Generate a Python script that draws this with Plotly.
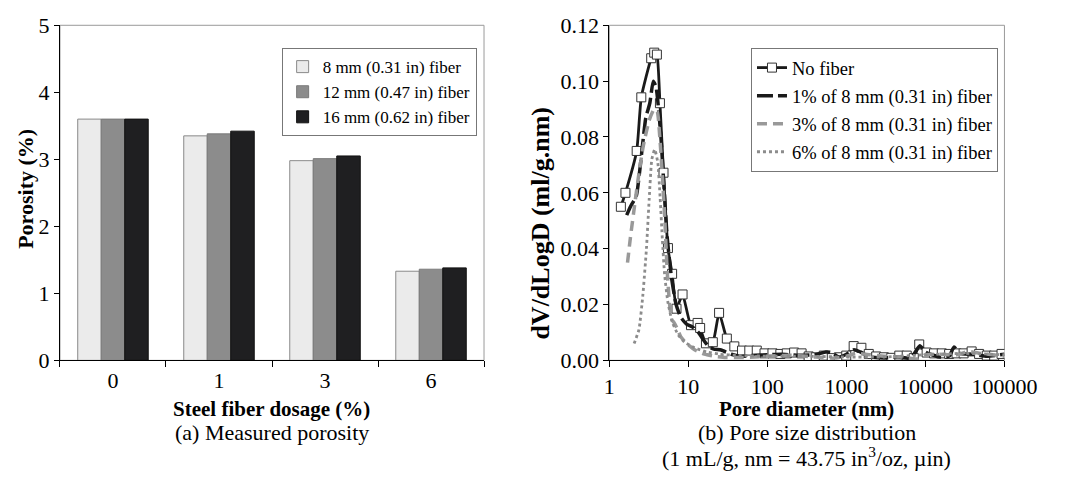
import plotly.graph_objects as go

# ---- (a) Measured porosity ----
dosage = ["0", "1", "3", "6"]
por_8mm = [3.60, 3.35, 2.98, 1.33]
por_12mm = [3.60, 3.38, 3.01, 1.36]
por_16mm = [3.60, 3.42, 3.05, 1.38]
bar_names = ["8 mm (0.31 in) fiber", "12 mm (0.47 in) fiber", "16 mm (0.62 in) fiber"]

# ---- (b) Pore size distribution ----
nofiber_d = [1.40, 1.60, 2.22, 2.54, 3.39, 3.70, 4.00, 4.37, 4.85, 5.52, 6.23, 7.08, 8.45,
             10.8, 13.1, 14.1, 16.7, 20.4, 24.5, 30.7, 38.2, 47.8, 59.1, 73.4, 92, 116, 146,
             176, 218, 271, 333, 409, 517, 653, 803, 996, 1236, 1548, 1920, 2382, 2981,
             3697, 4673, 5800, 7125, 8350, 10360, 12850, 16100, 19950, 24760, 30430,
             38450, 47750, 59750, 74100, 91900]
nofiber_v = [0.0550, 0.0600, 0.0750, 0.0942, 0.1082, 0.1102, 0.1095, 0.0921, 0.0672, 0.0402,
             0.0310, 0.0185, 0.0236, 0.0126, 0.0134, 0.0116, 0.0061, 0.0065, 0.0170, 0.0078,
             0.0050, 0.0035, 0.0035, 0.0035, 0.0025, 0.0025, 0.0023, 0.0025, 0.0028, 0.0025,
             0.0014, 0.0011, 0.0017, 0.0008, 0.0011, 0.0017, 0.0051, 0.0045, 0.0023, 0.0014,
             0.0011, 0.0009, 0.0017, 0.0017, 0.0008, 0.0057, 0.0028, 0.0025, 0.0025, 0.0023,
             0.0025, 0.0025, 0.0032, 0.0023, 0.0017, 0.0017, 0.0023]

f1_d = [1.66, 1.85, 2.20, 2.45, 2.90, 3.25, 3.60, 3.90, 4.10, 4.50, 4.90, 5.40, 6.10, 7.00,
        8.00, 9.50, 11.2, 13.4, 15.0, 18.0, 21.0, 26.0, 35.0, 45.0, 70, 100, 150, 250, 400,
        550, 650, 800, 1000, 1250, 1500, 2000, 3000, 4500, 6500, 8500, 10000, 15000, 20000,
        23000, 27000, 40000, 60000, 100000]
f1_v = [0.0520, 0.0550, 0.0590, 0.0690, 0.0870, 0.0920, 0.1000, 0.0980, 0.0930, 0.0800,
        0.0630, 0.0440, 0.0300, 0.0200, 0.0155, 0.0130, 0.0120, 0.0100, 0.0080, 0.0050,
        0.0040, 0.0037, 0.0022, 0.0015, 0.0018, 0.0020, 0.0022, 0.0018, 0.0020, 0.0030,
        0.0028, 0.0012, 0.0022, 0.0038, 0.0030, 0.0012, 0.0008, 0.0012, 0.0008, 0.0052,
        0.0030, 0.0012, 0.0015, 0.0048, 0.0025, 0.0022, 0.0015, 0.0022]

f3_d = [1.70, 1.85, 2.10, 2.40, 2.70, 3.20, 3.70, 4.05, 4.35, 4.70, 5.05, 5.40, 5.80, 6.20,
        6.60, 7.20, 8.00, 9.50, 12.0, 16.0, 22.0, 30.0, 45.0, 70, 100, 200, 400, 700, 1000,
        1300, 2000, 3000, 5000, 8000, 10000, 15000, 25000, 35000, 50000, 100000]
f3_v = [0.0350, 0.0440, 0.0560, 0.0680, 0.0770, 0.0860, 0.0900, 0.0890, 0.0800, 0.0660,
        0.0500, 0.0320, 0.0200, 0.0145, 0.0135, 0.0115, 0.0085, 0.0060, 0.0038, 0.0022,
        0.0014, 0.0010, 0.0010, 0.0012, 0.0015, 0.0018, 0.0012, 0.0008, 0.0015, 0.0025,
        0.0020, 0.0015, 0.0012, 0.0005, 0.0020, 0.0022, 0.0020, 0.0032, 0.0025, 0.0015]

f6_d = [2.06, 2.37, 2.65, 2.95, 3.20, 3.45, 3.75, 4.10, 4.40, 4.70, 5.00, 5.50, 6.30, 7.50,
        9.00, 12.0, 17.0, 25.0, 40.0, 100, 300, 1000, 3000, 10000, 30000, 100000]
f6_v = [0.0060, 0.0110, 0.0230, 0.0400, 0.0580, 0.0720, 0.0755, 0.0710, 0.0580, 0.0430,
        0.0310, 0.0210, 0.0135, 0.0090, 0.0065, 0.0045, 0.0030, 0.0022, 0.0018, 0.0015,
        0.0015, 0.0012, 0.0012, 0.0020, 0.0025, 0.0020]

SERIF = "Liberation Serif, Times New Roman, DejaVu Serif, serif"
W, H = 1076, 492

fig = go.Figure()

bar_fill = ["#ebebeb", "#8c8c8c", "#1f1f21"]
bar_edge = ["#8a8a8a", "#7a7a7a", "#111111"]
for i, (name, vals, fc, ec) in enumerate(zip(bar_names, [por_8mm, por_12mm, por_16mm], bar_fill, bar_edge)):
    fig.add_trace(go.Bar(x=dosage, y=vals, name=name, legendgroup=f"b{i}",
                         marker=dict(color=fc, line=dict(color=ec, width=1)),
                         xaxis="x", yaxis="y", legend="legend"))

spline = dict(shape="spline", smoothing=0.5)
fig.add_trace(go.Scatter(x=nofiber_d, y=nofiber_v, name="No fiber", mode="lines+markers", legendgroup="l0",
                         line=dict(color="#1a1a1a", width=2.8, **spline),
                         marker=dict(symbol="square", size=9, color="white", line=dict(color="#333", width=1)),
                         xaxis="x2", yaxis="y2", legend="legend2"))
fig.add_trace(go.Scatter(x=f1_d, y=f1_v, name="1% of 8 mm (0.31 in) fiber", mode="lines", legendgroup="l1",
                         line=dict(color="#1a1a1a", width=3.5, dash="16px,5px", **spline),
                         xaxis="x2", yaxis="y2", legend="legend2"))
fig.add_trace(go.Scatter(x=f3_d, y=f3_v, name="3% of 8 mm (0.31 in) fiber", mode="lines", legendgroup="l2",
                         line=dict(color="#999999", width=3.5, dash="10px,6px", **spline),
                         xaxis="x2", yaxis="y2", legend="legend2"))
fig.add_trace(go.Scatter(x=f6_d, y=f6_v, name="6% of 8 mm (0.31 in) fiber", mode="lines", legendgroup="l3",
                         line=dict(color="#8c8c8c", width=2.8, dash="3px,3px", **spline),
                         xaxis="x2", yaxis="y2", legend="legend2"))

# plot-area geometry in pixels
L1, R1, L2, R2, TOP, BOT = 56, 496, 626, 1036, 14, 367
px = lambda v: v / W
py = lambda v: 1 - v / H

tickfont = dict(family=SERIF, size=22, color="black")
common_y = dict(showline=True, linecolor="black", linewidth=1, ticks="outside", ticklen=5,
                tickcolor="black", showgrid=False, zeroline=False, tickfont=tickfont)
legend_common = dict(xanchor="left", yanchor="top", bgcolor="white", bordercolor="#777", borderwidth=1,
                     traceorder="grouped", itemwidth=30)
fig.update_layout(
    width=W, height=H, margin=dict(l=0, r=0, t=0, b=0),
    paper_bgcolor="white", plot_bgcolor="white",
    bargap=0.335, bargroupgap=0,
    xaxis=dict(domain=[px(L1), px(R1)], anchor="y", type="category", showline=True, linecolor="black",
               ticks="outside", tickson="boundaries", ticklen=6, tickcolor="black", tickfont=tickfont,
               showgrid=False),
    yaxis=dict(domain=[py(BOT), py(TOP)], anchor="x", range=[0, 5], dtick=1, **common_y),
    xaxis2=dict(domain=[px(L2), px(R2)], anchor="y2", type="log", range=[0, 5],
                tickvals=[1, 10, 100, 1000, 10000, 100000],
                ticktext=["1", "10", "100", "1000", "10000", "100000"],
                showline=True, linecolor="black", ticks="outside", ticklen=6, tickcolor="black",
                tickfont=tickfont, showgrid=False),
    yaxis2=dict(domain=[py(BOT), py(TOP)], anchor="x2", range=[0, 0.12], dtick=0.02,
                tickformat=".2f", **common_y),
    legend=dict(x=px(286), y=py(38), font=dict(family=SERIF, size=17, color="black"),
                tracegroupgap=0, **legend_common),
    legend2=dict(x=px(773), y=py(38), font=dict(family=SERIF, size=18.5, color="black"),
                 tracegroupgap=1, **legend_common),
    showlegend=True,
)

# light frame on top/right of each plot area
for l, r in [(L1, R1), (L2, R2)]:
    fig.add_shape(type="rect", xref="paper", yref="paper", x0=px(l), x1=px(r), y0=py(BOT), y1=py(TOP),
                  line=dict(color="#9a9a9a", width=1), layer="below")

def note(text, x, y, size, bold=False, angle=0):
    fig.add_annotation(text=f"<b>{text}</b>" if bold else text, x=px(x), y=py(y), xref="paper", yref="paper",
                       showarrow=False, textangle=angle, xanchor="center", yanchor="middle",
                       font=dict(family=SERIF, size=size, color="black"))

note("Porosity (%)", 20, 186, 22, bold=True, angle=-90)
note("dV/dLogD (ml/g.nm)", 555, 222, 26, bold=True, angle=-90)
note("Steel fiber dosage (%)", 276, 418, 21, bold=True)
note("Pore diameter (nm)", 831, 418, 21, bold=True)
note("(a) Measured porosity", 276, 443, 22)
note("(b) Pore size distribution", 831, 443, 22)
note("(1 mL/g, nm = 43.75 in<sup>3</sup>/oz, µin)", 831, 469, 22)

fig.write_html("out.html")
